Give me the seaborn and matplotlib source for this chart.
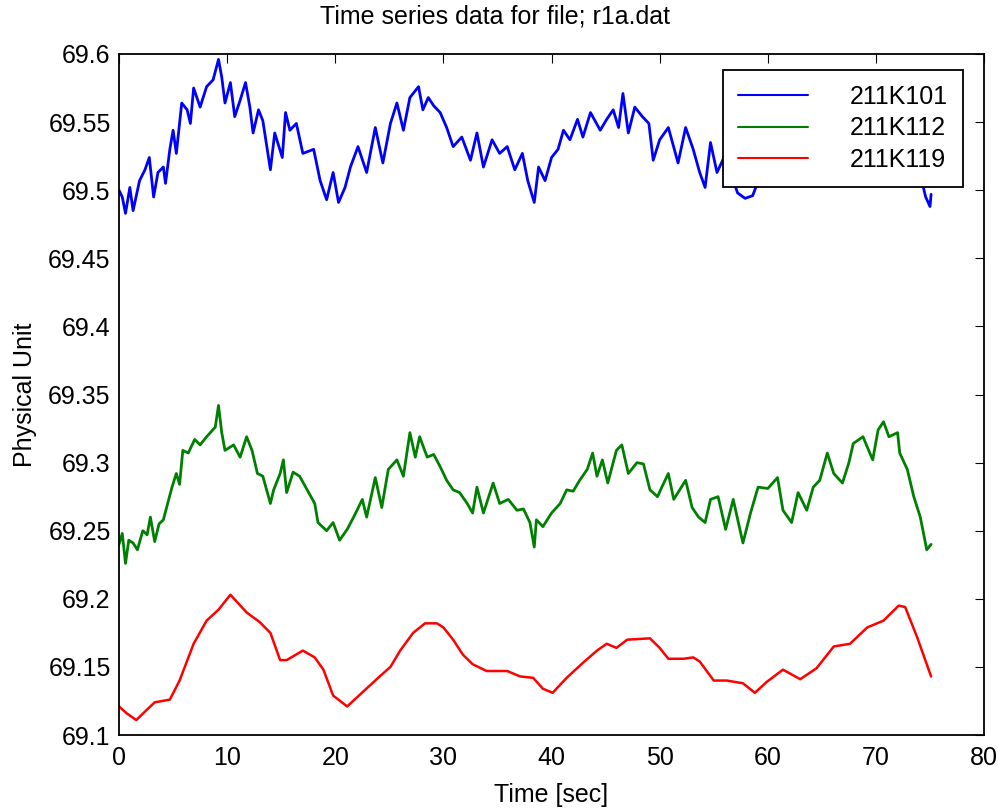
import pandas as pd
import matplotlib
matplotlib.use("Agg")
import matplotlib.pyplot as plt
import seaborn as sns
from matplotlib.ticker import FuncFormatter, MultipleLocator

sns.set_theme(style="white")
plt.rcParams['font.family'] = ['Liberation Sans', 'DejaVu Sans']
plt.rcParams['text.color'] = 'black'
plt.rcParams['axes.labelcolor'] = 'black'

# values
t_101 = [0, 0.3, 0.6, 1.0, 1.3, 1.9, 2.4, 2.8, 3.2, 3.6, 4.1, 4.3, 4.7, 5.0, 5.3, 5.8, 6.3, 6.6,
         6.9, 7.5, 8.1, 8.7, 9.2, 9.5, 9.8, 10.3, 10.7, 11.2, 11.7, 12.1, 12.4, 12.9, 13.3, 14.0,
         14.4, 15.1, 15.4, 15.8, 16.4, 17.0, 18.0, 18.6, 19.2, 19.8, 20.3, 20.9, 21.4, 22.1, 22.9,
         23.7, 24.4, 25.1, 25.7, 26.3, 26.9, 27.7, 28.1, 28.6, 29.1, 29.7, 30.3, 30.9, 31.7, 32.5,
         33.1, 33.7, 34.5, 35.2, 35.9, 36.6, 37.3, 37.8, 38.4, 38.8, 39.4, 40.0, 40.6, 41.1, 41.7,
         42.4, 42.9, 43.6, 44.5, 45.1, 45.7, 46.2, 46.6, 47.1, 47.7, 48.4, 49.0, 49.4, 50.0, 50.8,
         51.7, 52.4, 53.1, 53.7, 54.2, 54.7, 55.3, 56.0, 56.6, 57.2, 57.9, 58.6, 59.5, 60.5, 61.5,
         62.5, 63.5, 64.5, 65.5, 66.5, 67.5, 68.5, 69.5, 70.5, 71.5, 72.5, 73.5, 74.2, 74.6, 75.0,
         75.1]
v_101 = [69.500, 69.495, 69.483, 69.502, 69.485, 69.507, 69.515, 69.524, 69.495, 69.513, 69.517,
         69.505, 69.530, 69.544, 69.527, 69.564, 69.559, 69.549, 69.575, 69.561, 69.576, 69.581,
         69.596, 69.583, 69.564, 69.579, 69.554, 69.566, 69.579, 69.561, 69.542, 69.559, 69.551,
         69.515, 69.542, 69.524, 69.557, 69.544, 69.549, 69.527, 69.530, 69.507, 69.493, 69.513,
         69.491, 69.502, 69.517, 69.532, 69.513, 69.546, 69.520, 69.549, 69.564, 69.544, 69.568,
         69.576, 69.559, 69.568, 69.562, 69.557, 69.546, 69.532, 69.539, 69.522, 69.542, 69.517,
         69.537, 69.527, 69.532, 69.515, 69.527, 69.507, 69.491, 69.517, 69.507, 69.524, 69.530,
         69.544, 69.537, 69.552, 69.539, 69.557, 69.544, 69.552, 69.559, 69.546, 69.571, 69.542,
         69.561, 69.554, 69.549, 69.522, 69.537, 69.546, 69.520, 69.546, 69.530, 69.513, 69.502,
         69.535, 69.513, 69.525, 69.512, 69.498, 69.494, 69.496, 69.515, 69.528, 69.520, 69.532,
         69.524, 69.530, 69.536, 69.528, 69.532, 69.526, 69.520, 69.524, 69.518, 69.515, 69.512,
         69.508, 69.495, 69.488, 69.497]

t_112 = [0, 0.3, 0.6, 0.9, 1.3, 1.7, 2.2, 2.6, 2.9, 3.3, 3.7, 4.1, 4.4, 4.9, 5.3, 5.6, 5.9, 6.4,
         7.0, 7.5, 8.1, 8.9, 9.2, 9.5, 9.8, 10.6, 11.2, 11.8, 12.3, 12.8, 13.3, 14.0, 14.3, 14.9,
         15.2, 15.5, 16.1, 16.7, 17.4, 18.1, 18.4, 19.2, 19.8, 20.4, 21.1, 21.7, 22.5, 22.9, 23.7,
         24.3, 24.9, 25.7, 26.3, 26.9, 27.4, 27.8, 28.5, 29.1, 29.7, 30.3, 30.9, 31.5, 32.2, 32.7,
         33.1, 33.7, 34.6, 35.2, 36.0, 36.8, 37.4, 38.0, 38.4, 38.6, 39.2, 40.0, 40.8, 41.4, 42.0,
         42.6, 43.3, 43.8, 44.2, 44.7, 45.2, 46.0, 46.5, 47.1, 47.9, 48.5, 49.1, 49.8, 50.2, 50.8,
         51.3, 52.4, 53.0, 53.6, 54.2, 54.7, 55.4, 56.1, 56.8, 57.7, 58.4, 59.1, 60.0, 60.9, 61.4,
         62.2, 62.8, 63.6, 64.2, 64.8, 65.5, 66.1, 66.9, 67.5, 67.9, 68.8, 69.7, 70.2, 70.7, 71.2,
         72.0, 72.2, 72.9, 73.5, 74.1, 74.7, 75.1]
v_112 = [69.240, 69.248, 69.226, 69.243, 69.241, 69.236, 69.250, 69.247, 69.260, 69.242, 69.255,
         69.258, 69.267, 69.282, 69.292, 69.284, 69.309, 69.307, 69.317, 69.313, 69.319, 69.326,
         69.342, 69.322, 69.309, 69.313, 69.304, 69.319, 69.309, 69.292, 69.290, 69.270, 69.280,
         69.292, 69.302, 69.278, 69.293, 69.290, 69.280, 69.270, 69.256, 69.250, 69.256, 69.243,
         69.251, 69.260, 69.273, 69.260, 69.289, 69.267, 69.295, 69.302, 69.290, 69.322, 69.304,
         69.319, 69.304, 69.306, 69.297, 69.287, 69.280, 69.278, 69.270, 69.263, 69.282, 69.263,
         69.285, 69.270, 69.273, 69.265, 69.266, 69.256, 69.238, 69.258, 69.253, 69.263, 69.270,
         69.280, 69.279, 69.287, 69.295, 69.307, 69.290, 69.302, 69.285, 69.309, 69.313, 69.292,
         69.300, 69.299, 69.280, 69.275, 69.282, 69.292, 69.273, 69.287, 69.267, 69.260, 69.256,
         69.273, 69.275, 69.251, 69.273, 69.241, 69.263, 69.282, 69.281, 69.289, 69.265, 69.256,
         69.278, 69.265, 69.282, 69.287, 69.307, 69.292, 69.285, 69.300, 69.314, 69.319, 69.302,
         69.324, 69.330, 69.319, 69.322, 69.307, 69.295, 69.275, 69.260, 69.236, 69.240]

t_119 = [0, 0.7, 1.6, 2.5, 3.3, 4.7, 5.6, 6.9, 8.1, 9.2, 10.3, 11.8, 13.0, 14.0, 14.9, 15.5, 17.0,
         18.1, 18.9, 19.8, 21.1, 22.6, 24.1, 25.1, 26.0, 27.2, 28.3, 29.4, 30.0, 30.9, 31.8, 32.7,
         34.0, 35.9, 37.1, 38.3, 39.2, 40.1, 41.4, 42.9, 44.2, 45.1, 46.0, 47.0, 49.1, 50.0, 50.8,
         52.2, 53.1, 53.7, 55.0, 56.2, 57.7, 58.8, 59.9, 61.4, 63.0, 64.5, 66.1, 67.6, 69.2, 70.7,
         72.1, 72.7, 73.8, 75.1]
v_119 = [69.121, 69.116, 69.111, 69.118, 69.124, 69.126, 69.140, 69.167, 69.184, 69.192, 69.203,
         69.190, 69.183, 69.175, 69.155, 69.155, 69.162, 69.157, 69.148, 69.129, 69.121, 69.132,
         69.143, 69.150, 69.162, 69.175, 69.182, 69.182, 69.179, 69.170, 69.159, 69.152, 69.147,
         69.147, 69.143, 69.142, 69.134, 69.131, 69.142, 69.153, 69.162, 69.167, 69.164, 69.170,
         69.171, 69.164, 69.156, 69.156, 69.157, 69.154, 69.140, 69.140, 69.138, 69.131, 69.139,
         69.148, 69.141, 69.149, 69.165, 69.167, 69.179, 69.184, 69.195, 69.194, 69.172, 69.143]

labels = ["211K101", "211K112", "211K119"]
palette = {"211K101": "#0000ff", "211K112": "#008000", "211K119": "#ff0000"}

df = pd.concat([
    pd.DataFrame({"time": t_101, "value": v_101, "sensor": labels[0]}),
    pd.DataFrame({"time": t_112, "value": v_112, "sensor": labels[1]}),
    pd.DataFrame({"time": t_119, "value": v_119, "sensor": labels[2]}),
], ignore_index=True)

fig = plt.figure(figsize=(10.01, 8.08), dpi=100)
ax = fig.add_axes([0.1189, 0.0903, 0.8642, 0.8429])

sns.lineplot(data=df, x="time", y="value", hue="sensor", hue_order=labels,
             palette=palette, sort=False, estimator=None, linewidth=1.3, ax=ax)

# noisy channels look like thick bands in the original
widths = [2.0, 2.0, 1.8]
for line, w in zip(ax.lines, widths):
    line.set_linewidth(w)

ax.set_xlim(0, 80)
ax.set_ylim(69.1, 69.6)
ax.xaxis.set_major_locator(MultipleLocator(10))
ax.yaxis.set_major_locator(MultipleLocator(0.05))
ax.yaxis.set_major_formatter(FuncFormatter(lambda v, p: "%g" % round(v, 2)))
ax.tick_params(direction="in", length=6.5, width=0.8, labelsize=18,
               top=True, right=True, colors="black")
ax.tick_params(axis="x", pad=8)
ax.tick_params(axis="y", pad=6)
for s in ax.spines.values():
    s.set_color("black")
    s.set_linewidth(1.3)

ax.set_xlabel("Time [sec]", fontsize=18, labelpad=9, color="black")
ax.set_ylabel("Physical Unit", fontsize=18, labelpad=8, color="black")
ax.set_title("Time series data for file; r1a.dat", fontsize=18, pad=22, x=0.435, color="black")

leg = ax.legend(loc="upper right", bbox_to_anchor=(0.976, 0.9765), borderaxespad=0,
                fontsize=18, frameon=True, fancybox=False, framealpha=1,
                edgecolor="black", handlelength=2.8, handletextpad=1.7,
                labelspacing=0.3, borderpad=0.6)
leg.get_frame().set_linewidth(1.3)
for line in leg.get_lines():
    line.set_linewidth(1.5)
for txt in leg.get_texts():
    txt.set_color("black")

plt.savefig("out.png", dpi=100)
plt.close()
